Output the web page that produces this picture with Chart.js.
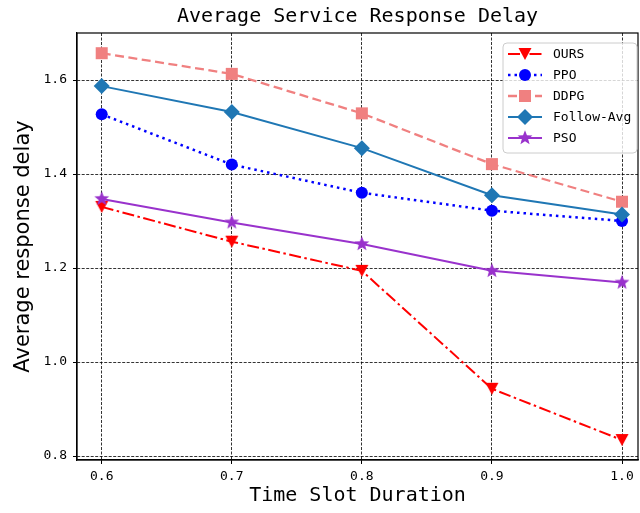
<!DOCTYPE html>
<html>
<head>
<meta charset="utf-8">
<script src="https://cdn.jsdelivr.net/npm/chart.js@4.4.0/dist/chart.umd.min.js"></script>
<style>
    html, body { margin: 0; padding: 0; background: #fff; }
</style>
</head>
<body>
<canvas id="graphCanvas" width="640" height="513"></canvas>
<script>
// values
const slots = [0.6, 0.7, 0.8, 0.9, 1.0];
const yTicks = [0.8, 1.0, 1.2, 1.4, 1.6];
const oursDelay = [1.330, 1.256, 1.194, 0.943, 0.834];
const ppoDelay = [1.527, 1.420, 1.360, 1.322, 1.300];
const ddpgDelay = [1.657, 1.613, 1.529, 1.421, 1.341];
const followAvgDelay = [1.587, 1.532, 1.455, 1.355, 1.314];
const psoDelay = [1.347, 1.297, 1.251, 1.194, 1.169];

const MONO = "'DejaVu Sans Mono', monospace";

// filled star marker (Chart.js 'star' is only an asterisk)
function makeStar(color) {
    const c = document.createElement('canvas');
    c.width = 18; c.height = 18;
    const g = c.getContext('2d');
    g.fillStyle = color;
    g.beginPath();
    for (let i = 0; i < 10; i++) {
        const r = i % 2 ? 3.3 : 7.8;
        const a = -Math.PI / 2 + i * Math.PI / 5;
        g.lineTo(9 + r * Math.cos(a), 9 + r * Math.sin(a));
    }
    g.closePath();
    g.fill();
    return c;
}
// downward triangle, centred on its bounding box like matplotlib 'v'
function makeTriDown(color) {
    const c = document.createElement('canvas');
    c.width = 16; c.height = 16;
    const g = c.getContext('2d');
    g.fillStyle = color;
    g.beginPath();
    g.moveTo(1.5, 2);
    g.lineTo(14.5, 2);
    g.lineTo(8, 14);
    g.closePath();
    g.fill();
    return c;
}
const starImg = makeStar('#9932cc');
const triImg = makeTriDown('#ff0000');

const series = [
    { label: 'OURS', values: oursDelay, color: '#ff0000', dash: [12, 3.5, 2.5, 3.5], width: 2,
      style: triImg, radius: 8 },
    { label: 'PPO', values: ppoDelay, color: '#0000ff', dash: [2.5, 4], width: 2.5,
      style: 'circle', radius: 6 },
    { label: 'DDPG', values: ddpgDelay, color: '#f08080', dash: [9, 4.5], width: 2.3,
      style: 'rect', radius: 8.5 },
    { label: 'Follow-Avg', values: followAvgDelay, color: '#1f77b4', dash: [], width: 2,
      style: 'rectRot', radius: 8 },
    { label: 'PSO', values: psoDelay, color: '#9932cc', dash: [], width: 2,
      style: starImg, radius: 7 }
];

// frame + legend box like matplotlib
const framePlugin = {
    id: 'frame',
    afterDatasetsDraw(chart) {
        const { ctx, chartArea: a } = chart;
        ctx.save();
        ctx.strokeStyle = '#000';
        ctx.lineWidth = 1.2;
        ctx.strokeRect(a.left, a.top, a.right - a.left, a.bottom - a.top);
        ctx.restore();
    },
    afterDraw(chart) {
        const ctx = chart.ctx;
        const bx = 503, by = 43, bw = 134, bh = 110, r = 4;
        ctx.save();
        ctx.beginPath();
        ctx.moveTo(bx + r, by);
        ctx.arcTo(bx + bw, by, bx + bw, by + bh, r);
        ctx.arcTo(bx + bw, by + bh, bx, by + bh, r);
        ctx.arcTo(bx, by + bh, bx, by, r);
        ctx.arcTo(bx, by, bx + bw, by, r);
        ctx.closePath();
        ctx.fillStyle = 'rgba(255,255,255,0.8)';
        ctx.fill();
        ctx.strokeStyle = '#cccccc';
        ctx.lineWidth = 1;
        ctx.stroke();

        series.forEach((s, i) => {
            const y = 54 + i * 21;
            ctx.strokeStyle = s.color;
            ctx.lineWidth = s.width;
            ctx.setLineDash(s.dash);
            ctx.beginPath();
            ctx.moveTo(508, y);
            ctx.lineTo(542, y);
            ctx.stroke();
            ctx.setLineDash([]);
            ctx.fillStyle = s.color;
            const mx = 525;
            if (s.style instanceof HTMLCanvasElement) {
                ctx.drawImage(s.style, mx - s.style.width / 2, y - s.style.height / 2);
            } else {
                ctx.beginPath();
                if (s.style === 'circle') {
                    ctx.arc(mx, y, 6, 0, Math.PI * 2);
                } else if (s.style === 'rect') {
                    ctx.rect(mx - 6, y - 6, 12, 12);
                } else {
                    ctx.moveTo(mx - 8, y); ctx.lineTo(mx, y - 8); ctx.lineTo(mx + 8, y); ctx.lineTo(mx, y + 8);
                }
                ctx.closePath();
                ctx.fill();
            }
            ctx.fillStyle = '#000';
            ctx.font = '13px ' + MONO;
            ctx.textBaseline = 'middle';
            ctx.fillText(s.label, 553, y + 1);
        });
        ctx.restore();
    }
};

const ctx = document.getElementById('graphCanvas').getContext('2d');
const myChart = new Chart(ctx, {
    type: 'line',
    data: {
        datasets: series.map((s, i) => ({
            label: s.label,
            data: slots.map((x, j) => ({ x: x, y: s.values[j] })),
            borderColor: s.color,
            backgroundColor: s.color,
            borderWidth: s.width,
            borderDash: s.dash,
            pointStyle: s.style,
            pointRadius: s.radius,
            pointBorderWidth: 0,
            pointBackgroundColor: s.color,
            pointBorderColor: s.color,
            fill: false,
            tension: 0,
            order: 5 - i
        }))
    },
    options: {
        responsive: false,
        animation: false,
        layout: { autoPadding: false, padding: { right: 2, left: 0, top: 0, bottom: 0 } },
        plugins: {
            legend: { display: false },
            tooltip: { enabled: false },
            title: {
                display: true,
                fullSize: false,
                text: 'Average Service Response Delay',
                color: '#000',
                font: { family: MONO, size: 20, weight: 'normal' },
                padding: { top: 5, bottom: 4 }
            }
        },
        scales: {
            x: {
                type: 'linear',
                min: 0.581,
                max: 1.0123,
                afterBuildTicks: axis => { axis.ticks = slots.map(v => ({ value: v })); },
                afterFit: axis => {
                    axis.height = 53;
                    axis.paddingLeft = 0;
                    axis.paddingRight = 0;
                },
                ticks: {
                    autoSkip: false,
                    maxRotation: 0,
                    color: '#000',
                    padding: 5,
                    font: { family: MONO, size: 13 },
                    callback: v => v.toFixed(1)
                },
                grid: { color: '#000', lineWidth: 0.8, tickLength: 4, tickColor: '#000', tickWidth: 1 },
                border: { display: true, color: '#000', width: 1.2, dash: [3, 1.5] },
                title: {
                    display: true,
                    text: 'Time Slot Duration',
                    color: '#000',
                    font: { family: MONO, size: 20 },
                    padding: { top: 0, bottom: 5 }
                }
            },
            y: {
                type: 'linear',
                min: 0.7915,
                max: 1.70,
                afterBuildTicks: axis => { axis.ticks = yTicks.map(v => ({ value: v })); },
                afterFit: axis => {
                    axis.width = 77;
                    axis.paddingTop = 0;
                    axis.paddingBottom = 0;
                },
                ticks: {
                    autoSkip: false,
                    color: '#000',
                    padding: 6,
                    font: { family: MONO, size: 13 },
                    callback: v => v.toFixed(1)
                },
                grid: { color: '#000', lineWidth: 0.8, tickLength: 4, tickColor: '#000', tickWidth: 1 },
                border: { display: true, color: '#000', width: 1.2, dash: [3, 1.5] },
                title: {
                    display: true,
                    text: 'Average response delay',
                    color: '#000',
                    font: { family: "'DejaVu Sans', sans-serif", size: 21 },
                    padding: { top: 11, bottom: 0 }
                }
            }
        }
    },
    plugins: [framePlugin]
});
</script>
</body>
</html>
